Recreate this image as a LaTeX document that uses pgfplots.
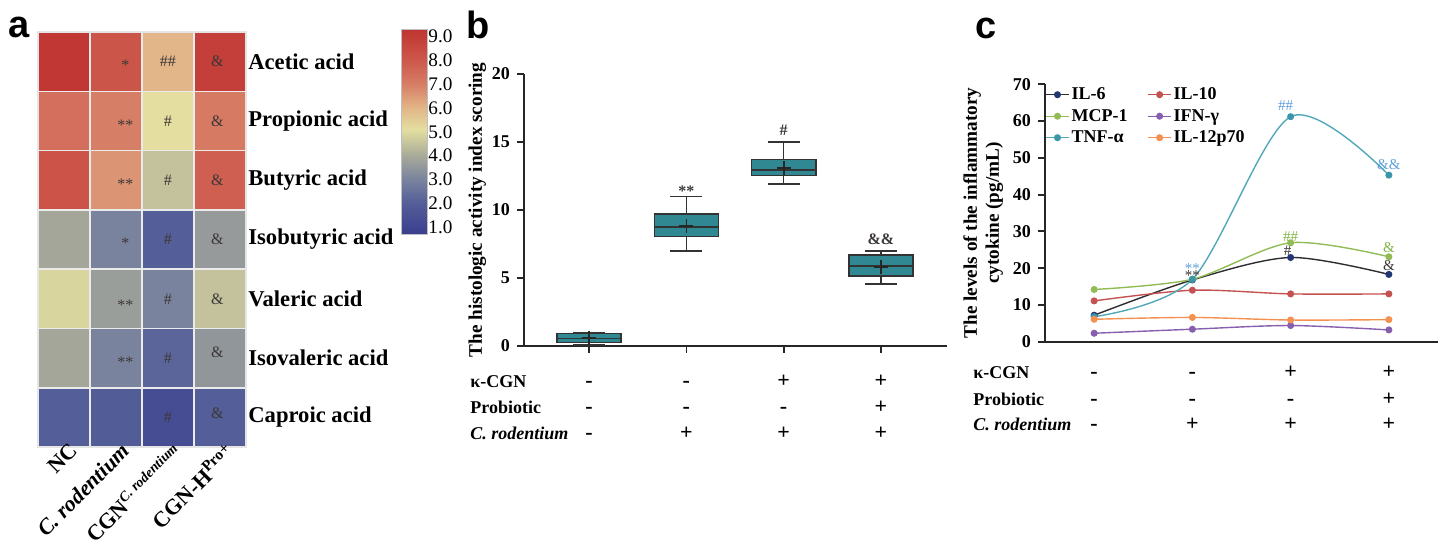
\documentclass[border=0pt]{standalone}
\usepackage{fontspec}
\setmainfont{Liberation Serif}
\newfontfamily\panelfont{Liberation Sans}
\usepackage{pgfplots}
\usepgfplotslibrary{statistics}
\pgfplotsset{compat=1.18}

\definecolor{boxteal}{RGB}{48,136,146}
\definecolor{cIL6}{RGB}{45,45,50}
\definecolor{cIL6m}{RGB}{35,55,115}
\definecolor{cIL10}{RGB}{196,82,80}
\definecolor{cMCP}{RGB}{145,188,85}
\definecolor{cIFN}{RGB}{135,95,175}
\definecolor{cTNF}{RGB}{80,168,185}
\definecolor{cTNFm}{RGB}{60,150,170}
\definecolor{cIL12}{RGB}{245,145,80}
\definecolor{annblue}{RGB}{95,160,220}
\definecolor{anngreen}{RGB}{130,180,70}
\definecolor{anndark}{RGB}{60,55,55}

\pgfplotsset{
  colormap={scfa}{rgb255(0.7cm)=(58,62,142) rgb255(2cm)=(84,94,152) rgb255(3cm)=(122,131,158)
    rgb255(4cm)=(168,170,152) rgb255(5.1cm)=(228,222,160) rgb255(6cm)=(226,182,136)
    rgb255(7cm)=(215,126,102) rgb255(8cm)=(205,88,76) rgb255(9.32cm)=(192,52,48)},
}
\tikzset{
  sgn/.style={anchor=base, font=\bfseries\fontsize{11}{12}\selectfont, inner sep=0pt},
  rowlab/.style={anchor=base west, font=\bfseries\fontsize{9}{10}\selectfont, inner sep=0pt},
  hmann/.style={font=\fontsize{8}{9}\selectfont, text=anndark, inner sep=0pt},
  ann/.style={font=\fontsize{7.5}{8}\selectfont, inner sep=0pt},
  panel/.style={anchor=base west, font=\panelfont\bfseries\fontsize{19}{20}\selectfont, inner sep=0pt},
}
% rows of +/- under an axis: baseline offset, then the signs
\newcommand{\signrow}[5]{%
  \node[sgn] at (axis cs:1,0) [yshift=-#1] {#2};
  \node[sgn] at (axis cs:2,0) [yshift=-#1] {#3};
  \node[sgn] at (axis cs:3,0) [yshift=-#1] {#4};
  \node[sgn] at (axis cs:4,0) [yshift=-#1] {#5};
}

\begin{document}
\begin{tikzpicture}
\useasboundingbox (0,0) rectangle (722.5pt,-270.5pt);

\node[panel] at (4pt,-18.5pt) {a};
\node[panel] at (233pt,-19pt) {b};
\node[panel] at (487.5pt,-19pt) {c};

% ---------------- a: heatmap ----------------
\begin{axis}[
  at={(19pt,-223.5pt)}, anchor=south west,
  scale only axis, width=104pt, height=207.5pt,
  xmin=-0.5, xmax=3.5, ymin=-0.5, ymax=6.5,
  enlargelimits=false,
  colormap name=scfa,
  point meta min=0.7, point meta max=9.32,
  axis on top,
  axis line style={draw=white!90!black, line width=0.8pt},
  xtick={0,1,2,3}, ytick={0,...,6},
  major tick length=0pt, minor tick length=0pt,
  minor xtick={0.5,1.5,2.5}, minor ytick={0.5,1.5,...,5.5},
  xminorgrids, yminorgrids,
  minor grid style={white!92!black, line width=0.8pt},
  xticklabels={NC, \textit{C. rodentium}, CGN\textsuperscript{\textit{\fontsize{7}{8}\selectfont C. rodentium}}, CGN-H\textsuperscript{Pro+}},
  xticklabel style={rotate=45, anchor=north east, font=\bfseries\fontsize{11}{13}\selectfont, inner sep=0.5pt, xshift=4pt, yshift=1pt},
  yticklabels={Caproic acid, Isovaleric acid, Valeric acid, Isobutyric acid, Butyric acid, Propionic acid, Acetic acid},
  yticklabel pos=right,
  yticklabel style={anchor=west, font=\bfseries\fontsize{11.3}{13}\selectfont, inner sep=1pt},
  colorbar,
  colorbar style={
    at={(parent axis.north east)}, anchor=north west,
    xshift=69pt, yshift=1.5pt,
    scale only axis, width=13pt, height=102.5pt,
    ytick={1,...,9},
    major tick length=0pt,
    axis line style={draw=black!25, line width=0.4pt},
    yticklabel style={font=\fontsize{9.6}{11}\selectfont, inner sep=0.5pt,
      /pgf/number format/.cd, fixed, fixed zerofill, precision=1, assume math mode=true},
  },
]
\addplot[matrix plot*, mesh/cols=4, point meta=explicit] table[meta=v] {
x y v
0 0 2.0
1 0 1.9
2 0 1.3
3 0 2.0
0 1 3.9
1 1 3.0
2 1 2.2
3 1 3.5
0 2 4.9
1 2 3.7
2 2 3.0
3 2 4.5
0 3 3.9
1 3 3.0
2 3 2.0
3 3 3.6
0 4 8.2
1 4 6.6
2 4 4.5
3 4 7.8
0 5 7.4
1 5 7.0
2 5 5.1
3 5 7.1
0 6 9.2
1 6 8.1
2 6 6.0
3 6 8.9
};
% significance marks
\node[hmann] at (axis cs:1.18,6) [yshift=-2pt] {*};
\node[hmann] at (axis cs:1.18,5) [yshift=-2pt] {**};
\node[hmann] at (axis cs:1.18,4) [yshift=-2pt] {**};
\node[hmann] at (axis cs:1.18,3) [yshift=-2pt] {*};
\node[hmann] at (axis cs:1.18,2) [yshift=-3pt] {**};
\node[hmann] at (axis cs:1.18,1) [yshift=-2pt] {**};
\node[hmann] at (axis cs:2,6) {\#\#};
\node[hmann] at (axis cs:2,5) {\#};
\node[hmann] at (axis cs:2,4) {\#};
\node[hmann] at (axis cs:2,3) {\#};
\node[hmann] at (axis cs:2,2) {\#};
\node[hmann] at (axis cs:2,1) {\#};
\node[hmann] at (axis cs:2,0) {\#};
\node[hmann] at (axis cs:2.95,6) {\&};
\node[hmann] at (axis cs:2.95,5) {\&};
\node[hmann] at (axis cs:2.95,4) {\&};
\node[hmann] at (axis cs:2.95,3) {\&};
\node[hmann] at (axis cs:2.95,2) {\&};
\node[hmann] at (axis cs:2.95,1) [yshift=3pt] {\&};
\node[hmann] at (axis cs:2.95,0) [yshift=2pt] {\&};
\end{axis}

% ---------------- b: box plots ----------------
\begin{axis}[
  at={(262pt,-173pt)}, anchor=south west,
  scale only axis, width=211.5pt, height=136pt,
  xmin=0.33, xmax=4.68, ymin=0, ymax=20,
  axis x line*=bottom, axis y line*=left,
  axis line style={line width=0.9pt, black!85},
  xtick={1,2,3,4}, xticklabels={},
  ytick={0,5,10,15,20},
  tick align=outside, major tick length=3.5pt,
  tick style={line width=0.9pt, black!85},
  yticklabel style={font=\bfseries\fontsize{9}{10}\selectfont, /pgf/number format/assume math mode=true},
  ylabel={The histologic activity index scoring},
  ylabel style={font=\bfseries\fontsize{9.6}{11}\selectfont},
  ylabel shift=-4pt,
  clip=false,
  boxplot/draw direction=y,
  boxplot/box extend=0.66, boxplot/whisker extend=0.33,
]
\addplot[boxplot prepared={draw position=1, lower whisker=0.07, lower quartile=0.25,
  median=0.55, upper quartile=0.93, upper whisker=1.0},
  fill=boxteal, draw=black!80, line width=0.8pt] coordinates {};
\addplot[boxplot prepared={draw position=2, lower whisker=7.0, lower quartile=8.05,
  median=8.75, upper quartile=9.7, upper whisker=11.0},
  fill=boxteal, draw=black!80, line width=0.8pt] coordinates {};
\addplot[boxplot prepared={draw position=3, lower whisker=11.9, lower quartile=12.55,
  median=12.95, upper quartile=13.7, upper whisker=15.0},
  fill=boxteal, draw=black!80, line width=0.8pt] coordinates {};
\addplot[boxplot prepared={draw position=4, lower whisker=4.55, lower quartile=5.15,
  median=5.9, upper quartile=6.7, upper whisker=7.0},
  fill=boxteal, draw=black!80, line width=0.8pt] coordinates {};
% means
\addplot[only marks, mark=+, mark size=3.5pt, line width=0.9pt, black!85] coordinates {
  (1,0.6) (2,8.8) (3,13.1) (4,5.8)};
\node[ann, font=\bfseries\fontsize{8}{9}\selectfont, text=anndark] at (axis cs:2,11.7) [yshift=-2pt] {**};
\node[ann, font=\bfseries\fontsize{8}{9}\selectfont, text=anndark] at (axis cs:3,15.9) {\#};
\node[ann, font=\bfseries\fontsize{8}{9}\selectfont, text=anndark] at (axis cs:4,7.85) {\&\&};
% treatment rows
\node[rowlab] at (rel axis cs:0,0) [xshift=-27pt, yshift=-20.5pt] {κ-CGN};
\node[rowlab] at (rel axis cs:0,0) [xshift=-27pt, yshift=-33.5pt] {Probiotic};
\node[rowlab] at (rel axis cs:0,0) [xshift=-27pt, yshift=-46.5pt] {\textit{C. rodentium}};
\signrow{20.5pt}{-}{-}{+}{+}
\signrow{33.5pt}{-}{-}{-}{+}
\signrow{46.5pt}{-}{+}{+}{+}
\end{axis}

% ---------------- c: cytokines ----------------
\begin{axis}[
  at={(522.5pt,-170.85pt)}, anchor=south west,
  scale only axis, width=196.5pt, height=128.7pt,
  xmin=0.5, xmax=4.5, ymin=0, ymax=70,
  axis x line*=bottom, axis y line*=left,
  axis line style={line width=0.9pt, black!85},
  xtick=\empty,
  ytick={0,10,...,70},
  tick align=outside, major tick length=3.5pt,
  tick style={line width=0.9pt, black!85},
  yticklabel style={font=\bfseries\fontsize{9}{10}\selectfont, /pgf/number format/assume math mode=true},
  ylabel={The levels of the inflammatory\\cytokine (pg/mL)},
  ylabel style={align=center, font=\bfseries\fontsize{9.6}{11}\selectfont},
  ylabel shift=-2pt,
  clip=false,
  legend style={at={(0,1)}, anchor=north west, draw=none, fill=none,
    legend columns=2, font=\bfseries\fontsize{9}{10}\selectfont,
    nodes={inner sep=1pt, text height=6.5pt, text depth=1.5pt},
    row sep=0.75pt, inner sep=0pt,
    /tikz/every even column/.append style={column sep=9pt}},
  legend cell align=left,
  legend image code/.code={\draw[mark repeat=2, mark phase=2, #1]
    plot coordinates {(0cm,0cm) (0.2cm,0cm) (0.4cm,0cm)};},
  every axis plot/.append style={line width=0.7pt, smooth, mark=*, mark size=1.4pt},
]
\addplot[cIL6, mark options={fill=cIL6m, draw=cIL6m}] coordinates {
  (1,7.2) (2,16.8) (3,22.9) (4,18.3)};
\addlegendentry{IL-6}
\addplot[cIL10, mark options={fill=cIL10}] coordinates {
  (1,11.1) (2,14.0) (3,13.0) (4,13.0)};
\addlegendentry{IL-10}
\addplot[cMCP, mark options={fill=cMCP}] coordinates {
  (1,14.2) (2,17.0) (3,26.9) (4,23.1)};
\addlegendentry{MCP-1}
\addplot[cIFN, mark options={fill=cIFN}] coordinates {
  (1,2.3) (2,3.4) (3,4.4) (4,3.2)};
\addlegendentry{IFN-γ}
\addplot[cTNF, mark options={fill=cTNFm, draw=cTNFm}] coordinates {
  (1,6.8) (2,17.0) (3,61.2) (4,45.3)};
\addlegendentry{TNF-α}
\addplot[cIL12, mark options={fill=cIL12}] coordinates {
  (1,6.1) (2,6.6) (3,5.9) (4,6.0)};
\addlegendentry{IL-12p70}
% significance marks
\node[ann, text=annblue] at (axis cs:2.95,64.3) {\#\#};
\node[ann, text=annblue] at (axis cs:4,48.3) {\&\&};
\node[ann, text=annblue] at (axis cs:2,21.1) [yshift=-2pt] {**};
\node[ann, text=anndark] at (axis cs:2,19.0) [yshift=-2pt] {**};
\node[ann, text=anngreen] at (axis cs:3,28.6) {\#\#};
\node[ann, text=anndark] at (axis cs:2.97,24.8) {\#};
\node[ann, text=anngreen] at (axis cs:4,25.5) {\&};
\node[ann, text=anndark] at (axis cs:4,20.6) {\&};
% treatment rows
\node[rowlab] at (rel axis cs:0,0) [xshift=-36pt, yshift=-18.2pt] {κ-CGN};
\node[rowlab] at (rel axis cs:0,0) [xshift=-36pt, yshift=-31.7pt] {Probiotic};
\node[rowlab] at (rel axis cs:0,0) [xshift=-36pt, yshift=-44.2pt] {\textit{C. rodentium}};
\signrow{18.2pt}{-}{-}{+}{+}
\signrow{31.7pt}{-}{-}{-}{+}
\signrow{44.2pt}{-}{+}{+}{+}
\end{axis}
\end{tikzpicture}
\end{document}
